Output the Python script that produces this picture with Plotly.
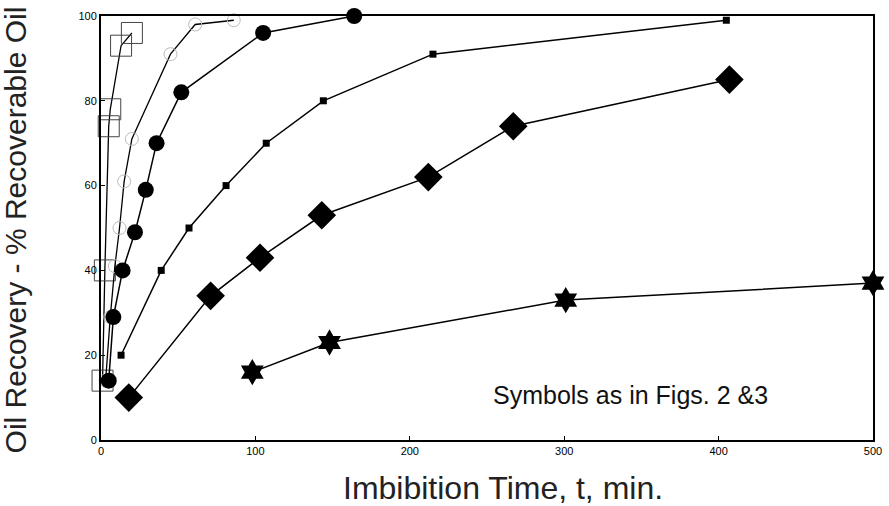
import plotly.graph_objects as go

# Open squares (faint, early)
sq_open_x = [1, 2.5, 5, 6, 13, 20]
sq_open_y = [14, 40, 74, 78, 93, 96]
# Open circles (faint)
circ_open_x = [3, 6, 9, 12, 15, 20, 45, 61, 86]
circ_open_y = [14, 29, 41, 50, 61, 71, 91, 98, 99]
# Filled circles
circ_x = [5, 8, 14, 22, 29, 36, 52, 105, 164]
circ_y = [14, 29, 40, 49, 59, 70, 82, 96, 100]
# Small filled squares
sq_x = [13, 39, 57, 81, 107, 144, 215, 405]
sq_y = [20, 40, 50, 60, 70, 80, 91, 99]
# Diamonds
dia_x = [18, 71, 103, 143, 212, 267, 407]
dia_y = [10, 34, 43, 53, 62, 74, 85]
# Stars
star_x = [98, 148, 301, 500]
star_y = [16, 23, 33, 37]

x_ticks = [0, 100, 200, 300, 400, 500]
y_ticks = [0, 20, 40, 60, 80, 100]

fig = go.Figure()

def add(x, y, symbol, size, fill="black", lw=1.5, mline=0, mcolor="black"):
    fig.add_trace(go.Scatter(
        x=x, y=y, mode="lines+markers",
        line=dict(color="black", width=lw),
        marker=dict(symbol=symbol, size=size, color=fill,
                    line=dict(color=mcolor, width=mline)),
        cliponaxis=False, showlegend=False))

add(sq_open_x, sq_open_y, "square-open", 21, fill="#444", lw=1.3, mline=1)
add(circ_open_x, circ_open_y, "circle-open", 13, fill="#bbb", lw=1.3, mline=1)
add(circ_x, circ_y, "circle", 16)
add(sq_x, sq_y, "square", 7)
add(dia_x, dia_y, "diamond", 22)
add(star_x, star_y, "hexagram", 20)

fig.add_annotation(x=343, y=10.6, xref="x", yref="y",
                   text="Symbols as in Figs. 2 &3", showarrow=False,
                   font=dict(family="Liberation Sans, Arial", size=25, color="#111"))

# Axis titles placed as annotations for exact positioning
fig.add_annotation(x=0.521, y=-0.113, xref="paper", yref="paper",
                   text="Imbibition Time, t, min.", showarrow=False,
                   xanchor="center", yanchor="middle",
                   font=dict(family="Liberation Sans, Arial", size=32, color="#222"))
fig.add_annotation(x=-0.111, y=0.495, xref="paper", yref="paper",
                   text="Oil Recovery - % Recoverable Oil", showarrow=False,
                   textangle=-90, xanchor="center", yanchor="middle",
                   font=dict(family="Liberation Sans, Arial", size=30, color="#222"))

axis_common = dict(
    showgrid=False, zeroline=False, showline=True, linecolor="black",
    linewidth=2, mirror=True, ticks="inside", ticklen=4, tickcolor="black",
    automargin=False,
    tickfont=dict(family="Liberation Sans, Arial", size=11, color="black"),
)

fig.update_xaxes(range=[0, 500], tickvals=x_ticks,
                 ticktext=[str(v) for v in x_ticks], **axis_common)
fig.update_yaxes(range=[0, 100], tickvals=y_ticks,
                 ticktext=[str(v) for v in y_ticks], **axis_common)

fig.update_layout(width=889, height=506,
                  margin=dict(l=101, r=16, t=16, b=66),
                  plot_bgcolor="white", paper_bgcolor="white")

fig.write_html("out.html")
